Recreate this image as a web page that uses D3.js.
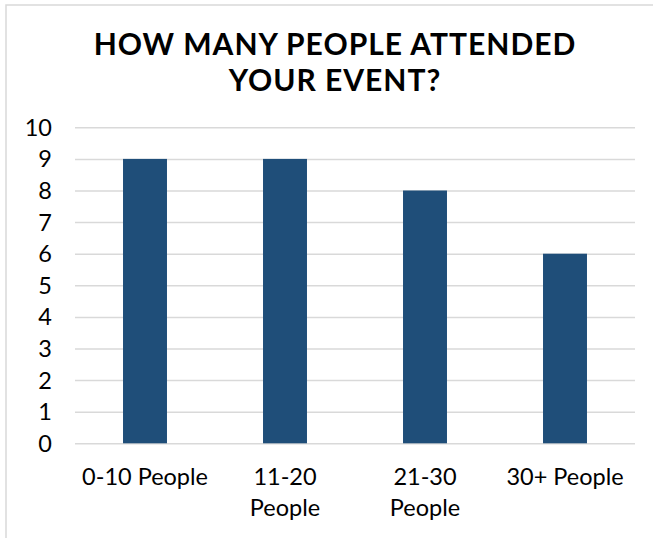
<!DOCTYPE html>
<meta charset="utf-8">
<style>
body { margin: 0; background: #fff; }
svg { display: block; font-family: "Lato", "Open Sans", sans-serif; }
.grid line { stroke: #d9d9d9; stroke-width: 1.5; }
.grid path { stroke-width: 0; }
.bar { fill: #1f4e79; }
.ylab text, .xlab text { fill: #000; font-size: 23.5px; }
.title { font-size: 30px; font-weight: 700; fill: #000; letter-spacing: 1px; }
</style>
<body>
<script src="https://cdn.jsdelivr.net/npm/d3@7"></script>
<script>

// data
var categories = ["0-10 People", "11-20 People", "21-30 People", "30+ People"];
var values = [9, 9, 8, 6];
var tickLabels = [["0-10 People"], ["11-20", "People"], ["21-30", "People"], ["30+ People"]];
var yTicks = [0, 1, 2, 3, 4, 5, 6, 7, 8, 9, 10];
var titleLines = ["HOW MANY PEOPLE ATTENDED", "YOUR EVENT?"];

var W = 653, H = 538;
var plot = {left: 75, right: 635, top: 127.3, bottom: 443.3};

var svg = d3.select("body").append("svg")
    .attr("width", W)
    .attr("height", H);

// chart frame
svg.append("rect")
    .attr("x", 6).attr("y", 5)
    .attr("width", 800).attr("height", 700)
    .attr("fill", "#fff")
    .attr("stroke", "#d9d9d9")
    .attr("stroke-width", 1.5);

// title, one text with a tspan per line
svg.append("text")
    .attr("class", "title")
    .attr("text-anchor", "middle")
    .selectAll("tspan")
    .data(titleLines)
  .enter().append("tspan")
    .attr("x", 335)
    .attr("y", function(d, i) { return 55 + i * 36; })
    .text(function(d) { return d; });

var x = d3.scaleBand()
    .domain(categories)
    .range([plot.left, plot.right])
    .paddingInner(0.686)
    .paddingOuter(0.343);

var y = d3.scaleLinear()
    .domain([0, 10])
    .range([plot.bottom, plot.top]);

// gridlines
svg.append("g")
    .attr("class", "grid")
    .attr("transform", "translate(" + plot.left + ",0)")
    .call(d3.axisLeft(y)
        .tickValues(yTicks)
        .tickSize(-(plot.right - plot.left))
        .tickFormat(""));

// bars
svg.selectAll(".bar")
    .data(values)
  .enter().append("rect")
    .attr("class", "bar")
    .attr("x", function(d, i) { return x(categories[i]); })
    .attr("width", x.bandwidth())
    .attr("y", function(d) { return y(d); })
    .attr("height", function(d) { return y(0) - y(d); });

// y labels
svg.append("g")
    .attr("class", "ylab")
    .selectAll("text")
    .data(yTicks)
  .enter().append("text")
    .attr("x", 52)
    .attr("y", function(d) { return y(d); })
    .attr("dy", "0.36em")
    .attr("text-anchor", "end")
    .text(function(d) { return d; });

// x labels
var xl = svg.append("g")
    .attr("class", "xlab")
    .selectAll("g")
    .data(categories)
  .enter().append("text")
    .attr("text-anchor", "middle")
    .attr("transform", function(d) {
      return "translate(" + (x(d) + x.bandwidth() / 2) + ",485)";
    });

xl.selectAll("tspan")
    .data(function(d, i) { return tickLabels[i]; })
  .enter().append("tspan")
    .attr("x", 0)
    .attr("y", function(d, i) { return i * 31; })
    .text(function(d) { return d; });

</script>
</body>
